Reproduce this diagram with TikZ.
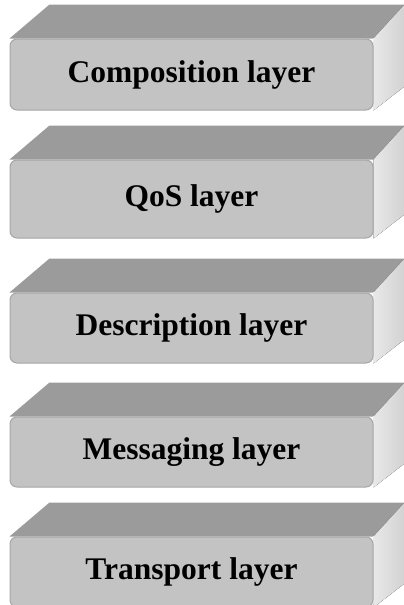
\documentclass[tikz,border=0pt]{standalone}
\usepackage{fontspec}
\setmainfont{Liberation Serif}
\usepackage{tikz}
\usetikzlibrary{calc,backgrounds}
\definecolor{frontgray}{HTML}{C3C3C3}
\definecolor{topgray}{HTML}{9B9B9B}
\definecolor{edgegray}{HTML}{A6A6A6}
\definecolor{sidelight}{HTML}{E8E8E8}
\definecolor{sidedark}{HTML}{D2D2D2}
\tikzset{
  layer/.style={
    draw=edgegray,
    line width=1pt,
    fill=frontgray,
    rounded corners=7pt,
    minimum width=363pt,
    minimum height=70pt,
    inner sep=0pt,
    font=\fontsize{31.5}{36}\selectfont\bfseries
  },
  topface/.style={fill=topgray},
  sideface/.style={left color=sidelight, right color=sidedark}
}

\begin{document}
\begin{tikzpicture}[x=1pt,y=-1pt]
  \useasboundingbox (0,0) rectangle (404,605);

  % Front faces of the stack
  \node[layer, minimum height=71pt] (comp) at (191.5,74.5) {Composition layer};
  \node[layer, minimum height=78pt] (qos) at (191.5,199) {QoS layer};
  \node[layer] (desc) at (191.5,328) {Description layer};
  \node[layer] (msg) at (191.5,452) {Messaging layer};
  \node[layer] (trans) at (191.5,572) {Transport layer};

  % Top and right faces behind every slab
  \begin{scope}[on background layer]
    \foreach \n in {comp,qos,desc,msg,trans} {
      \fill[topface] (\n.north west) -- ($(\n.north west)+(40,-34)$)
        -- ($(\n.north east)+(31,-34)$) -- (\n.north east) -- cycle;
      \fill[sideface] (\n.north east) -- ($(\n.north east)+(31,-34)$)
        -- ($(\n.south east)+(31,-24)$) -- (\n.south east) -- cycle;
    }
  \end{scope}
\end{tikzpicture}
\end{document}
